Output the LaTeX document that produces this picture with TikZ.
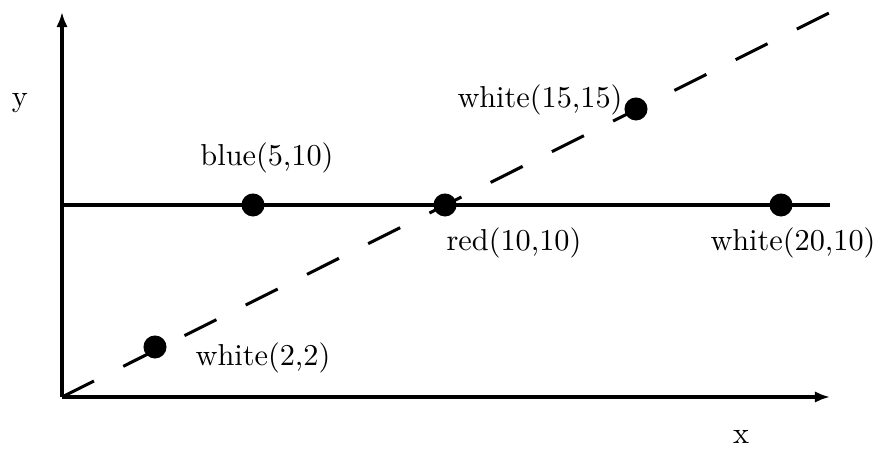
\documentclass[tikz,border=0pt]{standalone}
\usepackage{tikz}
\usetikzlibrary{arrows.meta, positioning}

\tikzset{
  axis/.style={line width=1.3pt, -{Latex[length=5pt,width=3.8pt]}},
  dot/.style={circle, fill=black, inner sep=0pt, minimum size=7.6pt},
}

\begin{document}
\begin{tikzpicture}[x=0.33pt,y=0.33pt]
        \useasboundingbox (0,0) rectangle (880,453);
        % axes
        \coordinate (O) at (62,56);
        \coordinate (ytop) at (62,441);
        \coordinate (xend) at (830,56);
        \draw[axis] (O) -- (ytop);
        \draw[axis] (O) -- (xend);
        \node (ylab) at (20,350) {y};
        \node (xlab) at (741,16) {x};
        % lines
        \coordinate (hl) at (62,248);
        \coordinate (hr) at (830,248);
        \coordinate (dend) at (829,440);
        \draw[line width=1.3pt] (hl) -- (hr);
        \draw[line width=1pt, dash pattern=on 11.8pt off 10.8pt] (O) -- (dend);
        % points
        \node[dot] (w22) at (155,106) {};
        \node[dot] (b510) at (253,248) {};
        \node[dot] (r1010) at (445,248) {};
        \node[dot] (w1515) at (636,344) {};
        \node[dot] (w2010) at (781,248) {};
        \node (w22lab) at (263,95) {white(2,2)};
        \node (b510lab) at (267,295) {blue(5,10)};
        \node (r1010lab) at (514,210) {red(10,10)};
        \node (w1515lab) at (540,353) {white(15,15)};
        \node (w2010lab) at (793,210) {white(20,10)};
    \end{tikzpicture}
\end{document}
